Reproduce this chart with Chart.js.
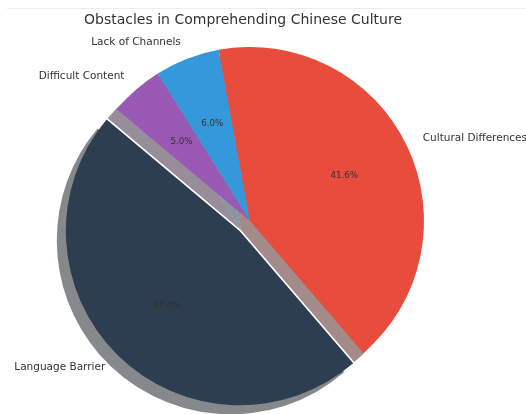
<!DOCTYPE html>
<html>
<head>
<meta charset="utf-8">
<script src="https://cdn.jsdelivr.net/npm/chart.js@4"></script>
<style>
  html, body { margin: 0; padding: 0; background: #fff; }
  #wrap { position: relative; width: 526px; height: 414px; }
</style>
</head>
<body>
<div id="wrap"><canvas id="pieChart"></canvas></div>
<script>
// data, in the order of the original plot (counter-clockwise from the start angle)
const categories = ['Language Barrier', 'Cultural Differences', 'Lack of Channels', 'Difficult Content'];
const shares = [47.4, 41.6, 6.0, 5.0];
const sliceColors = ['#2c3e50', '#e74c3c', '#3498db', '#9b59b6'];
const explodedSlice = 'Language Barrier';

const chartTitle = 'Obstacles in Comprehending Chinese Culture';
const FONT = '"DejaVu Sans", Verdana, sans-serif';

// Chart.js goes clockwise, so flip the order
let order = categories.map((c, i) => i).reverse();

function shadowColor(hex) {
    let r = parseInt(hex.slice(1, 3), 16), g = parseInt(hex.slice(3, 5), 16), b = parseInt(hex.slice(5, 7), 16);
    return `rgba(${Math.round(r * 0.3)}, ${Math.round(g * 0.3)}, ${Math.round(b * 0.3)}, 0.5)`;
}

const piePlugin = {
    id: 'pieExtras',
    beforeDatasetsDraw(chart) {
        let ctx = chart.ctx;
        let arcs = chart.getDatasetMeta(0).data;
        let cx = arcs[0].x, cy = arcs[0].y;
        // explode one slice away from the centre
        arcs.forEach((arc, i) => {
            let name = chart.data.labels[i];
            if (name === explodedSlice) {
                let mid = (arc.startAngle + arc.endAngle) / 2;
                let e = arc.outerRadius * 0.083;
                arc.x = cx + Math.cos(mid) * e;
                arc.y = cy + Math.sin(mid) * e;
            } else {
                arc.x = cx;
                arc.y = cy;
            }
        });
        // drop shadow under every slice
        let s = arcs[0].outerRadius * 0.052;
        ctx.save();
        arcs.forEach((arc, i) => {
            ctx.beginPath();
            ctx.moveTo(arc.x - s, arc.y + s);
            ctx.arc(arc.x - s, arc.y + s, arc.outerRadius, arc.startAngle, arc.endAngle);
            ctx.closePath();
            ctx.fillStyle = shadowColor(chart.data.datasets[0].backgroundColor[i]);
            ctx.fill();
        });
        ctx.restore();
    },
    afterDatasetsDraw(chart) {
        let ctx = chart.ctx;
        let arcs = chart.getDatasetMeta(0).data;
        let values = chart.data.datasets[0].data;
        let total = values.reduce((a, b) => a + b, 0);
        ctx.save();
        ctx.textBaseline = 'middle';
        arcs.forEach((arc, i) => {
            let mid = (arc.startAngle + arc.endAngle) / 2;
            let r = arc.outerRadius;
            ctx.fillStyle = '#333';
            ctx.font = '10.5px ' + FONT;
            ctx.textAlign = Math.cos(mid) >= 0 ? 'left' : 'right';
            ctx.fillText(chart.data.labels[i], arc.x + Math.cos(mid) * r * 1.1, arc.y + Math.sin(mid) * r * 1.1);
            ctx.font = '8.7px ' + FONT;
            ctx.textAlign = 'center';
            let pct = (values[i] / total * 100).toFixed(1) + '%';
            ctx.fillText(pct, arc.x + Math.cos(mid) * r * 0.6, arc.y + Math.sin(mid) * r * 0.6);
        });
        ctx.restore();
    },
    afterDraw(chart) {
        let ctx = chart.ctx;
        ctx.save();
        ctx.strokeStyle = '#ececec';
        ctx.lineWidth = 1;
        ctx.beginPath();
        ctx.moveTo(7, 8.5);
        ctx.lineTo(526, 8.5);
        ctx.stroke();
        ctx.fillStyle = '#333';
        ctx.font = '14px ' + FONT;
        ctx.textAlign = 'center';
        ctx.textBaseline = 'middle';
        ctx.fillText(chartTitle, 243, 20);
        ctx.restore();
    }
};

let ctx = document.getElementById('pieChart').getContext('2d');
window.pieChart = new Chart(ctx, {
    type: 'pie',
    data: {
        labels: order.map(i => categories[i]),
        datasets: [{
            data: order.map(i => shares[i]),
            backgroundColor: order.map(i => sliceColors[i]),
            borderWidth: 0,
            offset: 0,
            hoverOffset: 0
        }]
    },
    options: {
        responsive: true,
        maintainAspectRatio: false,
        animation: false,
        events: [],
        rotation: -50,
        layout: {
            padding: { left: 76, right: 102, top: 47, bottom: 19 }
        },
        plugins: {
            legend: { display: false },
            title: { display: false },
            tooltip: { enabled: false }
        }
    },
    plugins: [piePlugin]
});
</script>
</body>
</html>
